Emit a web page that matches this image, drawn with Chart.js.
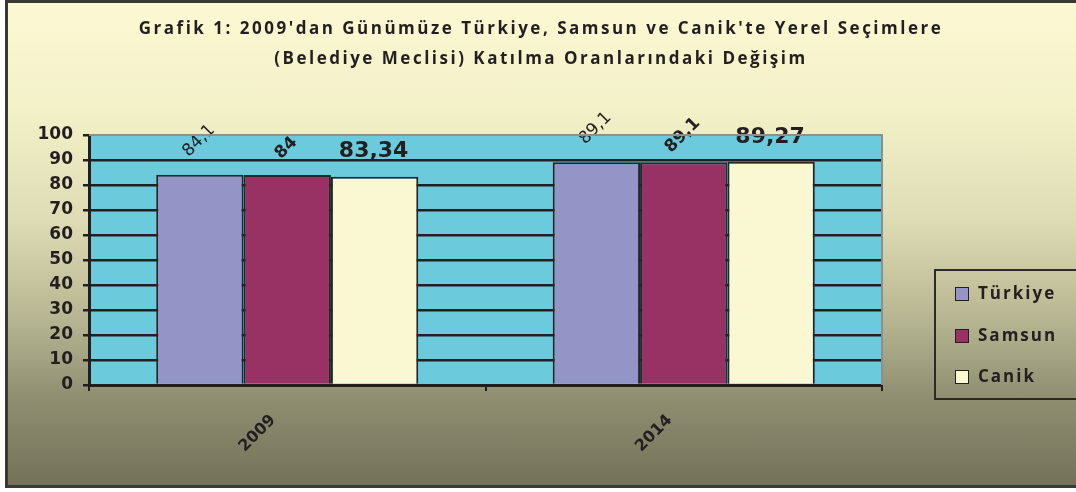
<!DOCTYPE html>
<html>
<head>
<meta charset="utf-8">
<script src="https://cdn.jsdelivr.net/npm/chart.js@4.4.1/dist/chart.umd.min.js"></script>
<style>
  html, body { margin: 0; padding: 0; width: 1076px; height: 492px; overflow: hidden; background: #fff; }
  #frame {
    position: absolute; left: 5px; top: 0; width: 1090px; height: 482px;
    border: 3px solid #3a3a34;
    background: linear-gradient(to bottom, #fbf8d3 0%, #f3f1c8 22%, #dedcb4 45%, #b8b793 65%, #8f8e71 82%, #74735a 100%);
  }
  #chart { position: absolute; left: 0; top: 0; }
  #title {
    position: absolute; left: 0; top: 13px; width: 1082px; text-align: center;
    font: bold 17px "Open Sans", Lato, sans-serif; letter-spacing: 2.5px; line-height: 30px; color: #231f20;
  }
  #legend {
    position: absolute; left: 934px; top: 269px; width: 160px; height: 127px;
    border: 2px solid #2a2a26;
  }
  .item { position: absolute; left: 19px; height: 20px; font: bold 17px "Open Sans", Lato, sans-serif; letter-spacing: 2px; color: #231f20; line-height: 20px; }
  .item span.box { position: absolute; left: 0; top: 3px; width: 12px; height: 12px; border: 1.5px solid #231f20; }
  .item span.txt { position: absolute; left: 23px; top: -1px; white-space: nowrap; }
</style>
</head>
<body>
<div id="frame"></div>
<canvas id="chart" width="1076" height="492"></canvas>
<div id="title">Grafik 1: 2009'dan Günümüze Türkiye, Samsun ve Canik'te Yerel Seçimlere<br>(Belediye Meclisi) Katılma Oranlarındaki Değişim</div>
<div id="legend"></div>
<script>
const years = ["2009", "2014"];
const seriesNames = ["Türkiye", "Samsun", "Canik"];
const turkiye = [84.1, 89.1];
const samsun = [84, 89.1];
const canik = [83.34, 89.27];
const yTicks = [0, 10, 20, 30, 40, 50, 60, 70, 80, 90, 100];

const colors = ["#9494c7", "#983264", "#faf8d2"];
const dark = "#231f20";

// value labels: style per series
const labelStyles = [
  { font: "17px 'DejaVu Sans'", rot: -45, dy: -34 },
  { font: "bold 17px 'DejaVu Sans'", rot: -45, dy: -27 },
  { font: "bold 22px 'DejaVu Sans'", rot: 0, dy: -25 }
];

const plotBg = {
  id: "plotBg",
  beforeDraw(chart) {
    const a = chart.chartArea, ctx = chart.ctx;
    ctx.save();
    ctx.fillStyle = "#6bcbdc";
    ctx.fillRect(a.left, a.top, a.right - a.left, a.bottom - a.top);
    ctx.restore();
  },
  afterDraw(chart) {
    const a = chart.chartArea, ctx = chart.ctx;
    ctx.save();
    ctx.strokeStyle = "#8e8e8e";
    ctx.lineWidth = 2;
    ctx.beginPath();
    ctx.moveTo(a.left, a.top);
    ctx.lineTo(a.right, a.top);
    ctx.lineTo(a.right, a.bottom);
    ctx.stroke();
    ctx.restore();
  }
};

const valueLabels = {
  id: "valueLabels",
  afterDatasetsDraw(chart) {
    const ctx = chart.ctx;
    chart.data.datasets.forEach((ds, i) => {
      const st = labelStyles[i];
      chart.getDatasetMeta(i).data.forEach((bar, j) => {
        const txt = String(ds.data[j]).replace(".", ",");
        ctx.save();
        ctx.translate(bar.x - 1, bar.y + st.dy);
        ctx.rotate(st.rot * Math.PI / 180);
        ctx.font = st.font;
        ctx.fillStyle = dark;
        ctx.textAlign = "center";
        ctx.textBaseline = "middle";
        ctx.fillText(txt, 0, 0);
        ctx.restore();
      });
    });
  }
};

new Chart(document.getElementById("chart"), {
  type: "bar",
  data: {
    labels: years,
    datasets: [
      { label: seriesNames[0], data: turkiye, backgroundColor: colors[0] },
      { label: seriesNames[1], data: samsun, backgroundColor: colors[1] },
      { label: seriesNames[2], data: canik, backgroundColor: colors[2] }
    ].map(d => Object.assign(d, { borderColor: "#262626", borderWidth: 2, categoryPercentage: 0.661, barPercentage: 1 }))
  },
  options: {
    responsive: false,
    animation: false,
    layout: { padding: { left: 0, top: 135, right: 194, bottom: 0 } },
    plugins: { legend: { display: false }, title: { display: false }, tooltip: { enabled: false } },
    scales: {
      x: {
        afterFit: s => { s.height = 107; },
        grid: { offset: true, drawOnChartArea: false, tickLength: 6, tickColor: dark, lineWidth: 2 },
        border: { color: dark, width: 3 },
        ticks: {
          minRotation: 45, maxRotation: 45, padding: 20, labelOffset: -14,
          color: dark, font: { family: "DejaVu Sans", weight: "bold", size: 16 }
        }
      },
      y: {
        min: 0, max: 100,
        afterFit: s => { s.width = 89; },
        afterBuildTicks: s => { s.ticks = yTicks.map(v => ({ value: v })); },
        grid: {
          color: c => c.tick && c.tick.value === 100 ? "rgba(0,0,0,0)" : dark,
          lineWidth: 2.5, tickLength: 6, tickColor: dark
        },
        border: { color: dark, width: 3 },
        ticks: { padding: 10, color: dark, font: { family: "DejaVu Sans", weight: "bold", size: 17 } }
      }
    }
  },
  plugins: [plotBg, valueLabels]
});

// HTML legend built from the series names and colours
const leg = document.getElementById("legend");
const rowTops = [13, 55, 96];
seriesNames.forEach((name, i) => {
  const it = document.createElement("div");
  it.className = "item";
  it.style.top = rowTops[i] + "px";
  it.innerHTML = '<span class="box" style="background:' + colors[i] + '"></span><span class="txt">' + name + '</span>';
  leg.appendChild(it);
});
</script>
</body>
</html>
